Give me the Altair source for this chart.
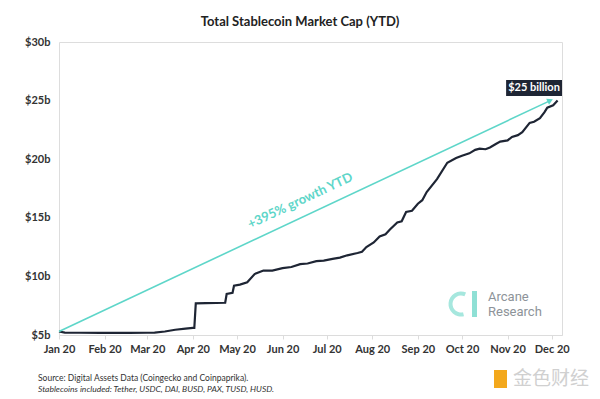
import altair as alt
import pandas as pd

# ---- data ----
mc_dates = ["2020-01-01", "2020-01-05", "2020-01-15", "2020-01-29", "2020-02-10", "2020-02-18",
            "2020-03-01", "2020-03-06", "2020-03-13", "2020-03-20", "2020-03-27", "2020-04-01",
            "2020-04-02", "2020-04-03", "2020-04-10", "2020-04-23", "2020-04-24", "2020-04-28",
            "2020-04-29", "2020-05-03", "2020-05-08", "2020-05-13", "2020-05-19", "2020-05-25",
            "2020-06-01", "2020-06-07", "2020-06-13", "2020-06-18", "2020-06-24", "2020-06-29",
            "2020-07-05", "2020-07-10", "2020-07-15", "2020-07-22", "2020-07-25", "2020-07-28",
            "2020-08-02", "2020-08-06", "2020-08-10", "2020-08-13", "2020-08-18", "2020-08-21",
            "2020-08-24", "2020-08-28", "2020-09-01", "2020-09-04", "2020-09-07", "2020-09-14",
            "2020-09-21", "2020-09-27", "2020-10-01", "2020-10-06", "2020-10-10", "2020-10-13",
            "2020-10-17", "2020-10-20", "2020-10-24", "2020-10-27", "2020-11-01", "2020-11-04",
            "2020-11-08", "2020-11-11", "2020-11-16", "2020-11-19", "2020-11-23", "2020-11-26",
            "2020-11-28", "2020-12-02", "2020-12-05"]
mc_values = [5.30, 5.20, 5.19, 5.18, 5.18, 5.18,
             5.19, 5.20, 5.30, 5.45, 5.55, 5.60,
             5.60, 7.70, 7.72, 7.75, 8.50, 8.60,
             9.20, 9.30, 9.50, 10.20, 10.50, 10.50,
             10.70, 10.80, 11.05, 11.10, 11.30, 11.35,
             11.50, 11.60, 11.80, 12.00, 12.10, 12.50,
             12.90, 13.40, 13.60, 14.00, 14.60, 14.70,
             15.50, 15.60, 16.20, 16.50, 17.20, 18.30,
             19.70, 20.10, 20.30, 20.50, 20.80, 20.90,
             20.85, 21.00, 21.30, 21.50, 21.60, 21.90,
             22.05, 22.30, 23.10, 23.20, 23.50, 24.00,
             24.40, 24.60, 25.00]

arrow_dates = ["2020-01-01", "2020-11-30"]
arrow_values = [5.3, 25.0]

month_ticks = list(range(1, 13))
y_ticks = [5, 10, 15, 20, 25, 30]

growth_label = "+395% growth YTD"
growth_date = "2020-06-13"
growth_value = 16.45

badge_label = "$25 billion"
badge_x1, badge_x2 = "2020-10-31", "2020-12-08"
badge_y1, badge_y2 = 25.4, 26.75
badge_center_date = "2020-11-19"
badge_center_value = 26.07

TEAL = "#5ed6c9"
NAVY = "#1e2534"
FONT = "Lato"

df = pd.DataFrame({"date": mc_dates, "cap": mc_values})
arrow_df = pd.DataFrame({"date": arrow_dates, "cap": arrow_values})
head_df = arrow_df.iloc[[-1]]
growth_df = pd.DataFrame({"date": [growth_date], "cap": [growth_value], "t": [growth_label]})
badge_df = pd.DataFrame({"x1": [badge_x1], "x2": [badge_x2], "y1": [badge_y1], "y2": [badge_y2],
                         "cx": [badge_center_date], "cy": [badge_center_value], "t": [badge_label]})

x_scale = alt.Scale(type="utc",
                    domain=[alt.DateTime(year=2020, month=1, date=1, utc=True),
                            alt.DateTime(year=2020, month=12, date=8, utc=True)])
y_scale = alt.Scale(domain=[5, 30], nice=False, zero=False)

x_axis = alt.Axis(values=[alt.DateTime(year=2020, month=m, date=1, utc=True) for m in month_ticks],
                  format="%b %y", title=None, grid=False, labelOverlap=False, labelFlush=False,
                  domainColor="#dcdcdc", tickColor="#dcdcdc", tickSize=4,
                  labelFont=FONT, labelFontSize=11, labelFontWeight="bold", labelColor="#333333",
                  labelPadding=4)
y_axis = alt.Axis(values=y_ticks, labelExpr="'$' + datum.value + 'b'", title=None, grid=False,
                  domain=False, ticks=False, tickSize=0, labelPadding=9,
                  labelFont=FONT, labelFontSize=11, labelFontWeight="bold", labelColor="#333333")

X = alt.X("date:T", scale=x_scale, axis=x_axis)
Y = alt.Y("cap:Q", scale=y_scale, axis=y_axis)

line = alt.Chart(df).mark_line(color=NAVY, strokeWidth=2.2).encode(x=X, y=Y)

arrow = alt.Chart(arrow_df).mark_line(color=TEAL, strokeWidth=1.6).encode(
    x=alt.X("date:T", scale=x_scale), y=alt.Y("cap:Q", scale=y_scale))
head = alt.Chart(head_df).mark_point(shape="triangle-up", filled=True, color=TEAL, opacity=1,
                                     size=45, angle=65).encode(
    x=alt.X("date:T", scale=x_scale), y=alt.Y("cap:Q", scale=y_scale))

growth = alt.Chart(growth_df).mark_text(color=TEAL, font=FONT, fontSize=13, fontWeight="bold",
                                        angle=334.8).encode(
    x=alt.X("date:T", scale=x_scale), y=alt.Y("cap:Q", scale=y_scale), text="t:N")

badge_rect = alt.Chart(badge_df).mark_rect(color=NAVY).encode(
    x=alt.X("x1:T", scale=x_scale), x2="x2:T",
    y=alt.Y("y1:Q", scale=y_scale), y2="y2:Q")
badge_text = alt.Chart(badge_df).mark_text(color="white", font=FONT, fontSize=11,
                                           fontWeight="bold").encode(
    x=alt.X("cx:T", scale=x_scale), y=alt.Y("cy:Q", scale=y_scale), text="t:N")

# ---- decorations (title, source, logos) ----
def txt(s, px, py, **kw):
    return alt.Chart(pd.DataFrame({"t": [s]})).mark_text(**kw).encode(
        x=alt.value(px), y=alt.value(py), text="t:N")

title = txt("Total Stablecoin Market Cap (YTD)", 241, -20, font=FONT, fontSize=13,
            fontWeight="bold", color="#222222")
src1 = txt("Source: Digital Assets Data (Coingecko and Coinpaprika).", -21, 336, align="left",
           font=FONT, fontSize=8.5, color="#333333")
src2 = txt("Stablecoins included: Tether, USDC, DAI, BUSD, PAX, TUSD, HUSD.", -21, 347,
           align="left", font=FONT, fontSize=8.5, fontStyle="italic", color="#333333")
arc1 = txt("Arcane", 429, 255, align="left", font="Roboto", fontSize=13, color="#8d9399")
arc2 = txt("Research", 429, 270, align="left", font="Roboto", fontSize=13, color="#8d9399")
ring = alt.Chart(pd.DataFrame({"a": [1]})).mark_arc(
    radius=12.5, radius2=8.5, theta=2.9, theta2=6.7, color="#a6e7de").encode(
    x=alt.value(402), y=alt.value(262))
bar = alt.Chart(pd.DataFrame({"a": [1]})).mark_rect(color="#8fe0d5").encode(
    x=alt.value(413), x2=alt.value(418), y=alt.value(249), y2=alt.value(275))
wm = txt("金色财经", 454, 337, align="left", font="Noto Sans CJK SC", fontSize=19,
         color="#d0d0d0")
wm_logo = alt.Chart(pd.DataFrame({"a": [1]})).mark_rect(color="#f3a81c").encode(
    x=alt.value(435), x2=alt.value(448), y=alt.value(328), y2=alt.value(346))

chart = alt.layer(line, arrow, head, growth, badge_rect, badge_text,
                  title, src1, src2, ring, bar, arc1, arc2, wm_logo, wm).properties(
    width=503, height=293,
    autosize=alt.AutoSizeParams(type="none"),
    padding={"left": 51, "top": 34, "right": 30, "bottom": 60},
).configure_view(stroke=None).configure(background="white")

chart.save("out.html", embed_options={"renderer": "svg", "actions": False})
